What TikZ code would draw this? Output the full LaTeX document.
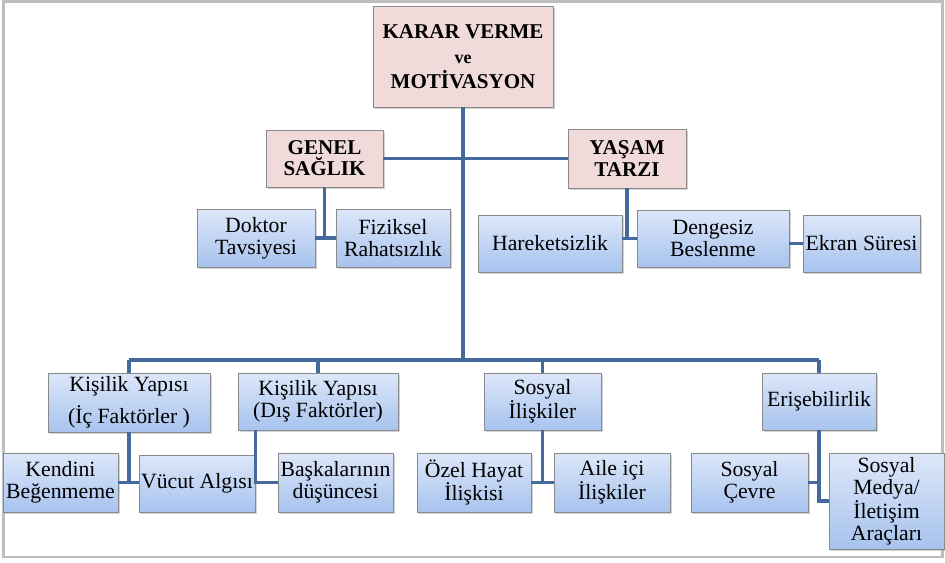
\documentclass[tikz,border=0pt]{standalone}
\usepackage{fontspec}
\setmainfont{Liberation Serif}
\usetikzlibrary{calc,positioning,shadows}
\definecolor{linkblue}{HTML}{44699C}
\definecolor{bluetop}{HTML}{DDE7F9}
\definecolor{bluebot}{HTML}{A7C3EE}
\definecolor{pinkbox}{HTML}{F0DBDA}
\definecolor{boxgray}{HTML}{8A8A8A}
\definecolor{framegray}{HTML}{BEBEBE}
\newcommand\midsize{\fontsize{13.5}{15.8}\selectfont}
\newcommand\headsize{\fontsize{15.8}{15.8}\selectfont}
\tikzset{
  base/.style={draw=boxgray,line width=0.6pt,align=center,inner sep=1pt,
    drop shadow={shadow xshift=1.8pt,shadow yshift=-1.8pt,opacity=0.35}},
  box/.style={base,top color=bluetop,bottom color=bluebot,font=\fontsize{16.3}{16.5}\selectfont},
  head/.style={base,fill=pinkbox,font=\bfseries\headsize},
  link/.style={draw=linkblue,line width=2.7pt},
  sz/.style 2 args={minimum width=#1pt,minimum height=#2pt}
}

\begin{document}
\begin{tikzpicture}[x=0.75pt,y=-0.75pt]
\useasboundingbox (0,0) rectangle (945,562);
\draw[framegray,line width=2.2pt] (3.5,1.5) rectangle (942.5,557);

\node[head,sz={135}{75.75}] (karar) at (463,56.5) {KARAR VERME\\[3pt]\midsize ve\\[3pt]\headsize MOTİVASYON};
\node[head,sz={87.75}{42.75}] (genel) at (324.5,158.5) {GENEL\\SAĞLIK};
\node[head,sz={88.5}{44.25}] (yasam) at (627,158.5) {YAŞAM\\TARZI};

\node[box,sz={88.5}{43.5}] (doktor) at (256,238) {Doktor\\Tavsiyesi};
\node[box,sz={85.5}{43.5}] (fiziksel) at (393,238) {Fiziksel\\Rahatsızlık};
\node[box,sz={108}{42.75}] (hareket) at (550,243.5) {Hareketsizlik};
\node[box,sz={114}{42.75}] (dengesiz) at (713,238.5) {Dengesiz\\Beslenme};
\node[box,sz={87.75}{42.75}] (ekran) at (861.5,243.5) {Ekran Süresi};

\node[box,sz={121.5}{44.25}] (ic) at (129,402.5) {Kişilik Yapısı\\[6pt](İç Faktörler )};
\node[box,sz={120}{42.75}] (dis) at (318,401.5) {Kişilik Yapısı\\(Dış Faktörler)};
\node[box,sz={87.75}{42.75}] (sosyal) at (542.5,401.5) {Sosyal\\İlişkiler};
\node[box,sz={85.5}{42.75}] (erisim) at (819,401.5) {Erişebilirlik};

\node[box,sz={86.25}{44.25}] (kendini) at (60.5,482.5) {Kendini\\Beğenmeme};
\node[box,sz={87}{42.75}] (vucut) at (197,483.5) {Vücut Algısı};
\node[box,sz={86.25}{44.25}] (baska) at (335.5,482.5) {Başkalarının\\düşüncesi};
\node[box,sz={85.5}{44.25}] (ozel) at (474,482.5) {Özel Hayat\\İlişkisi};
\node[box,sz={87}{44.25}] (aile) at (612,482.5) {Aile içi\\İlişkiler};
\node[box,sz={87.75}{44.25}] (cevre) at (749.5,482.5) {Sosyal\\Çevre};
\node[box,sz={86.25}{72}] (medya) at (886.5,501) {Sosyal\\Medya/\\İletişim\\Araçları};

\coordinate (bus) at (462,360);
\draw[link] (karar) -- (karar |- bus);
\draw[link] (genel) -- (yasam);
\draw[link] (ic.north |- bus) -- (erisim.north |- bus);
\foreach \n in {ic,dis,sosyal,erisim}
  \draw[link] (\n.north |- bus) -- (\n);

\draw[link] (genel) -- (genel |- doktor.east);
\draw[link] (doktor) -- (fiziksel);
\draw[link] (yasam) -- (yasam |- dengesiz.west);
\draw[link] (hareket.east |- dengesiz.west) -- (dengesiz.west);
\draw[link] (dengesiz.east |- ekran.west) -- (ekran.west);

\draw[link] (ic) -- (ic |- kendini.east);
\draw[link] (kendini.east) -- (kendini.east -| vucut.west);
\draw[link] (vucut.east |- dis.south) |- (baska.west);
\draw[link] (sosyal) -- (sosyal |- ozel.east);
\draw[link] (ozel) -- (aile);
\draw[link] (erisim) |- (medya.west);
\draw[link] (cevre.east) -- (cevre.east -| erisim.south);
\end{tikzpicture}
\end{document}
